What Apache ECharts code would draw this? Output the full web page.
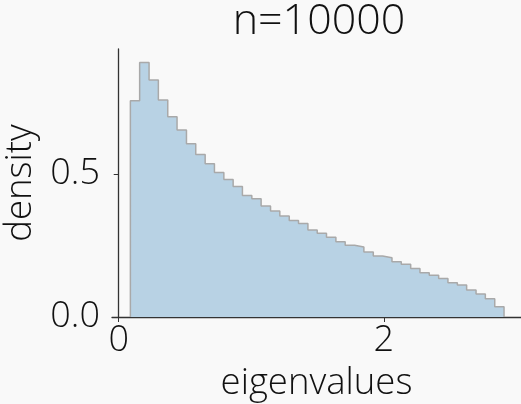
<!DOCTYPE html>
<html>
<head>
<meta charset="utf-8">
<script src="https://cdn.jsdelivr.net/npm/echarts@6/dist/echarts.min.js"></script>
<style>
html,body{margin:0;padding:0;background:#f9f9f9;}
#chart{width:521px;height:404px;}
</style>
</head>
<body>
<div id="chart"></div>
<script>
// Histogram bin edges (41 edges -> 40 bins)
var binEdges = [0.088, 0.158, 0.229, 0.299, 0.370, 0.440, 0.511, 0.581, 0.652, 0.722,
  0.793, 0.863, 0.933, 1.004, 1.074, 1.145, 1.215, 1.286, 1.356, 1.427,
  1.497, 1.567, 1.638, 1.708, 1.779, 1.849, 1.920, 1.990, 2.061, 2.131,
  2.202, 2.272, 2.342, 2.413, 2.483, 2.554, 2.624, 2.695, 2.765, 2.836, 2.906];
// Density of each bin
var densities = [0.756, 0.890, 0.829, 0.759, 0.700, 0.654, 0.606, 0.568, 0.536, 0.505,
  0.481, 0.456, 0.425, 0.413, 0.388, 0.371, 0.353, 0.337, 0.327, 0.304,
  0.293, 0.279, 0.263, 0.251, 0.245, 0.227, 0.213, 0.207, 0.193, 0.184,
  0.170, 0.155, 0.146, 0.135, 0.120, 0.112, 0.094, 0.080, 0.064, 0.036];
var xTicks = [0, 2];
var yTicks = [0, 0.5];
var titleText = 'n=10000';
var xName = 'eigenvalues';
var yName = 'density';

var stepData = [[binEdges[0], 0]];
for (var i = 0; i < densities.length; i++) {
  stepData.push([binEdges[i + 1], densities[i]]);
}
stepData.push([binEdges[binEdges.length - 1], 0]);

var FONT = '"Open Sans", sans-serif';
var chart = echarts.init(document.getElementById('chart'), null, {renderer: 'canvas'});
chart.setOption({
  backgroundColor: '#f9f9f9',
  animation: false,
  title: {
    text: titleText,
    left: 314, top: -5, textAlign: 'center',
    textStyle: {fontFamily: FONT, fontWeight: 300, fontSize: 43, color: '#111'}
  },
  grid: {left: 112, right: 0, top: 49, bottom: 87, containLabel: false, outerBoundsMode: 'none'},
  xAxis: {
    type: 'value', min: -0.0506, max: 3.034,
    name: xName, nameLocation: 'middle', nameGap: 48,
    nameTextStyle: {fontFamily: FONT, fontWeight: 300, fontSize: 36.5, color: '#111'},
    splitLine: {show: false},
    axisLine: {show: true, onZero: false, lineStyle: {color: '#333', width: 1.3}},
    axisTick: {show: true, length: 5, customValues: xTicks, lineStyle: {color: '#333', width: 1}},
    axisLabel: {customValues: xTicks, margin: 6, fontFamily: FONT, fontWeight: 300, fontSize: 36, color: '#111'}
  },
  yAxis: {
    type: 'value', min: 0, max: 0.937,
    name: yName, nameLocation: 'middle', nameGap: 68, nameRotate: 90,
    nameTextStyle: {fontFamily: FONT, fontWeight: 300, fontSize: 36.5, color: '#111'},
    splitLine: {show: false},
    axisLine: {show: true, lineStyle: {color: '#333', width: 1.3}},
    axisTick: {show: true, length: 5, customValues: yTicks, lineStyle: {color: '#333', width: 1}},
    axisLabel: {customValues: yTicks, margin: 12, fontFamily: FONT, fontWeight: 300, fontSize: 36, color: '#111',
      formatter: function (v) { return v.toFixed(1); }}
  },
  series: [{
    type: 'line',
    step: 'start',
    data: stepData,
    symbol: 'none',
    lineStyle: {color: '#a9a9a9', width: 1.5},
    areaStyle: {color: '#b8d2e4', opacity: 1, origin: 0},
    z: 1
  }]
});
</script>
</body>
</html>
